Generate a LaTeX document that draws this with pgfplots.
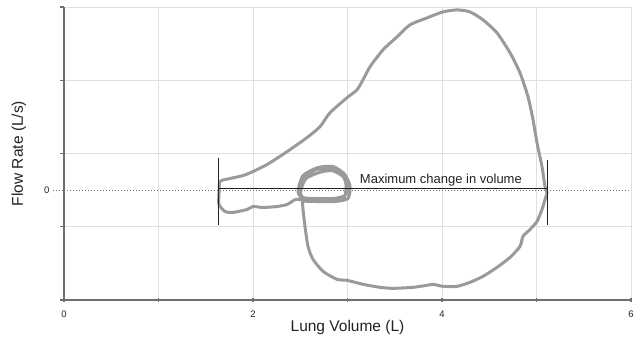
\documentclass[border=0pt]{standalone}
\usepackage{fontspec}
\setmainfont{Liberation Sans}
\usepackage{pgfplots}
\pgfplotsset{compat=1.18}
\usetikzlibrary{calc}
\definecolor{curve}{HTML}{9A9A9A}
\definecolor{gridc}{HTML}{E0E0E0}
\definecolor{axisc}{HTML}{6E6E6E}
\definecolor{txt}{HTML}{222222}

\begin{document}
\begin{tikzpicture}
\begin{axis}[
  scale only axis, width=567pt, height=293pt,
  xmin=0, xmax=6, ymin=-3, ymax=5,
  axis x line=bottom, axis y line=left,
  axis line style={-, axisc, line width=1.3pt},
  xtick={0,1,...,6}, xticklabels={0,,2,,4,,6},
  ytick={-3,-1,1,3,5}, yticklabels={},
  grid=major, major grid style={gridc, line width=0.9pt},
  tick align=outside, major tick length=4pt,
  tick style={axisc, line width=1.2pt},
  x tick style={yshift=2pt},
  /pgf/number format/assume math mode=true,
  ticklabel style={font=\fontsize{9.5}{11}\selectfont, text=txt},
  xticklabel style={yshift=-3.5pt},
  extra y ticks={0}, extra y tick labels={0},
  extra y tick style={grid=major,
     major grid style={axisc, line width=0.8pt, dash pattern=on 0.8pt off 2.2pt},
     major tick length=11pt,
     tick style={axisc, line width=0.8pt, dash pattern=on 0.8pt off 2.2pt}},
  xlabel={Lung Volume (L)}, ylabel={Flow Rate (L/s)},
  label style={font=\fontsize{15.5}{18}\selectfont, text=txt},
  xlabel style={at={(axis description cs:0.5,-0.0922)}, anchor=center},
  ylabel style={at={(axis description cs:-0.0794,0.5)}, anchor=center},
]
\addplot[curve, line width=3pt, smooth, tension=0.4, line join=round] coordinates {
(2.444,-0.256)(2.360,-0.392)(2.254,-0.447)(2.106,-0.474)(2.000,-0.447)(1.937,-0.529)
(1.788,-0.610)(1.704,-0.583)(1.640,-0.392)(1.640,-0.120)(1.651,0.234)(1.757,0.316)
(1.894,0.398)(2.000,0.507)(2.148,0.698)(2.265,0.888)(2.392,1.106)(2.571,1.433)
(2.709,1.733)(2.815,2.114)(2.995,2.523)(3.101,2.741)(3.164,3.014)(3.238,3.368)
(3.376,3.831)(3.524,4.185)(3.661,4.512)(3.841,4.703)(4.011,4.866)(4.159,4.921)
(4.296,4.866)(4.434,4.649)(4.582,4.294)(4.720,3.749)(4.825,3.204)(4.910,2.550)
(4.963,1.924)(5.005,1.297)(5.058,0.643)(5.090,0.098)(5.111,-0.065)(5.090,-0.256)
(5.058,-0.529)(5.005,-0.856)(4.931,-1.074)(4.857,-1.264)(4.825,-1.537)(4.720,-1.837)
(4.582,-2.109)(4.434,-2.354)(4.296,-2.518)(4.159,-2.627)(4.011,-2.627)(3.905,-2.572)
(3.841,-2.599)(3.693,-2.654)(3.481,-2.681)(3.344,-2.654)(3.164,-2.572)(2.995,-2.463)
(2.889,-2.436)(2.741,-2.218)(2.635,-1.891)(2.582,-1.537)(2.550,-0.992)(2.529,-0.529)
(2.519,-0.256)
(2.476,-0.038)(2.529,0.398)(2.688,0.616)(2.847,0.643)(2.963,0.452)(3.026,0.125)(3.005,-0.229)(2.868,-0.311)(2.688,-0.311)(2.519,-0.283)
(2.508,0.016)(2.561,0.316)(2.698,0.480)(2.836,0.534)(2.952,0.371)(2.995,0.098)(2.974,-0.147)(2.857,-0.229)(2.698,-0.229)(2.529,-0.202)
(2.487,0.071)(2.540,0.343)(2.667,0.561)(2.815,0.589)(2.942,0.425)(2.984,0.153)(2.963,-0.202)(2.815,-0.283)(2.656,-0.283)(2.497,-0.256)
(2.444,-0.256)
};
\addplot[txt, line width=0.8pt] coordinates {(1.63,0.89)(1.63,-0.96)};
\addplot[txt, line width=0.8pt] coordinates {(5.111,0.83)(5.111,-0.96)};
\addplot[txt, line width=0.8pt] coordinates {(1.63,0.044)(5.111,0.044)};
\node[anchor=base west, inner sep=0, font=\fontsize{13}{15}\selectfont, text=txt] at (axis cs:3.13,0.18) {Maximum change in volume};
\end{axis}
\pgfresetboundingbox
\path ($(current axis.south west)+(-64pt,-44pt)$) rectangle ($(current axis.north east)+(13pt,7pt)$);
\end{tikzpicture}
\end{document}
